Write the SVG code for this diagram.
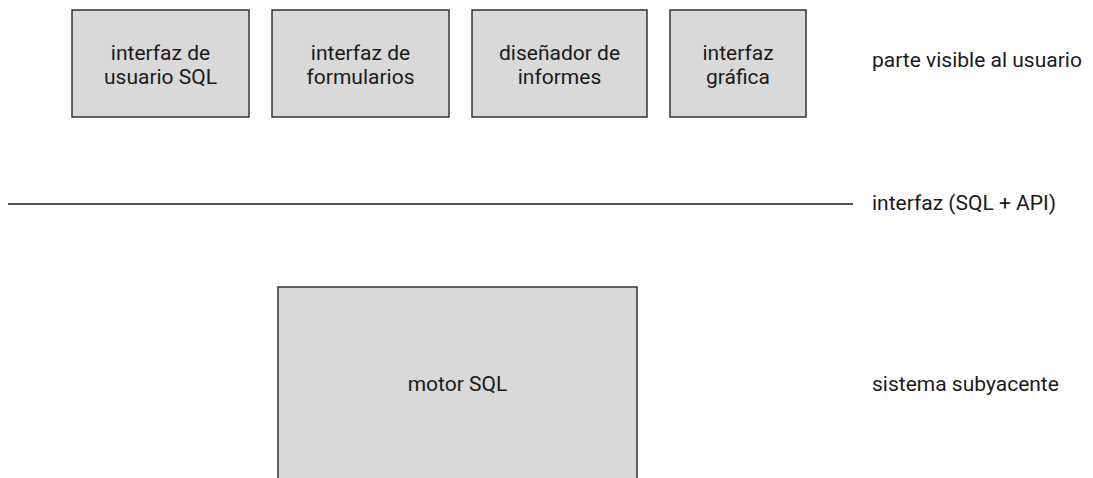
<svg xmlns="http://www.w3.org/2000/svg" width="1093" height="478" viewBox="0 0 1093 478">
<style>
.box{fill:#d9d9d9;stroke:#333;stroke-width:1.5}
text{font-family:Roboto,"Liberation Sans",sans-serif;font-size:21px;fill:#1a1a1a}
.c{text-anchor:middle}
</style>
<rect width="1093" height="478" fill="#fff"/>
<g id="n1"><rect class="box" x="72" y="10" width="177" height="107"/><text class="c" x="160.5" y="60">interfaz de</text><text class="c" x="160.5" y="84">usuario SQL</text></g>
<g id="n2"><rect class="box" x="272" y="10" width="177" height="107"/><text class="c" x="360.5" y="60">interfaz de</text><text class="c" x="360.5" y="84">formularios</text></g>
<g id="n3"><rect class="box" x="472" y="10" width="175" height="107"/><text class="c" x="559.5" y="60">diseñador de</text><text class="c" x="559.5" y="84">informes</text></g>
<g id="n4"><rect class="box" x="670" y="10" width="136" height="107"/><text class="c" x="738" y="60">interfaz</text><text class="c" x="738" y="84">gráfica</text></g>
<g id="n5"><rect class="box" x="278" y="287" width="359" height="200"/><text class="c" x="457.5" y="391">motor SQL</text></g>
<g id="connectors"><line x1="8" y1="204" x2="853" y2="204" stroke="#1a1a1a" stroke-width="1.5"/></g>
<g id="labels">
<text x="872" y="67">parte visible al usuario</text>
<text x="872" y="210">interfaz (SQL + API)</text>
<text x="872" y="391">sistema subyacente</text>
</g>
</svg>
